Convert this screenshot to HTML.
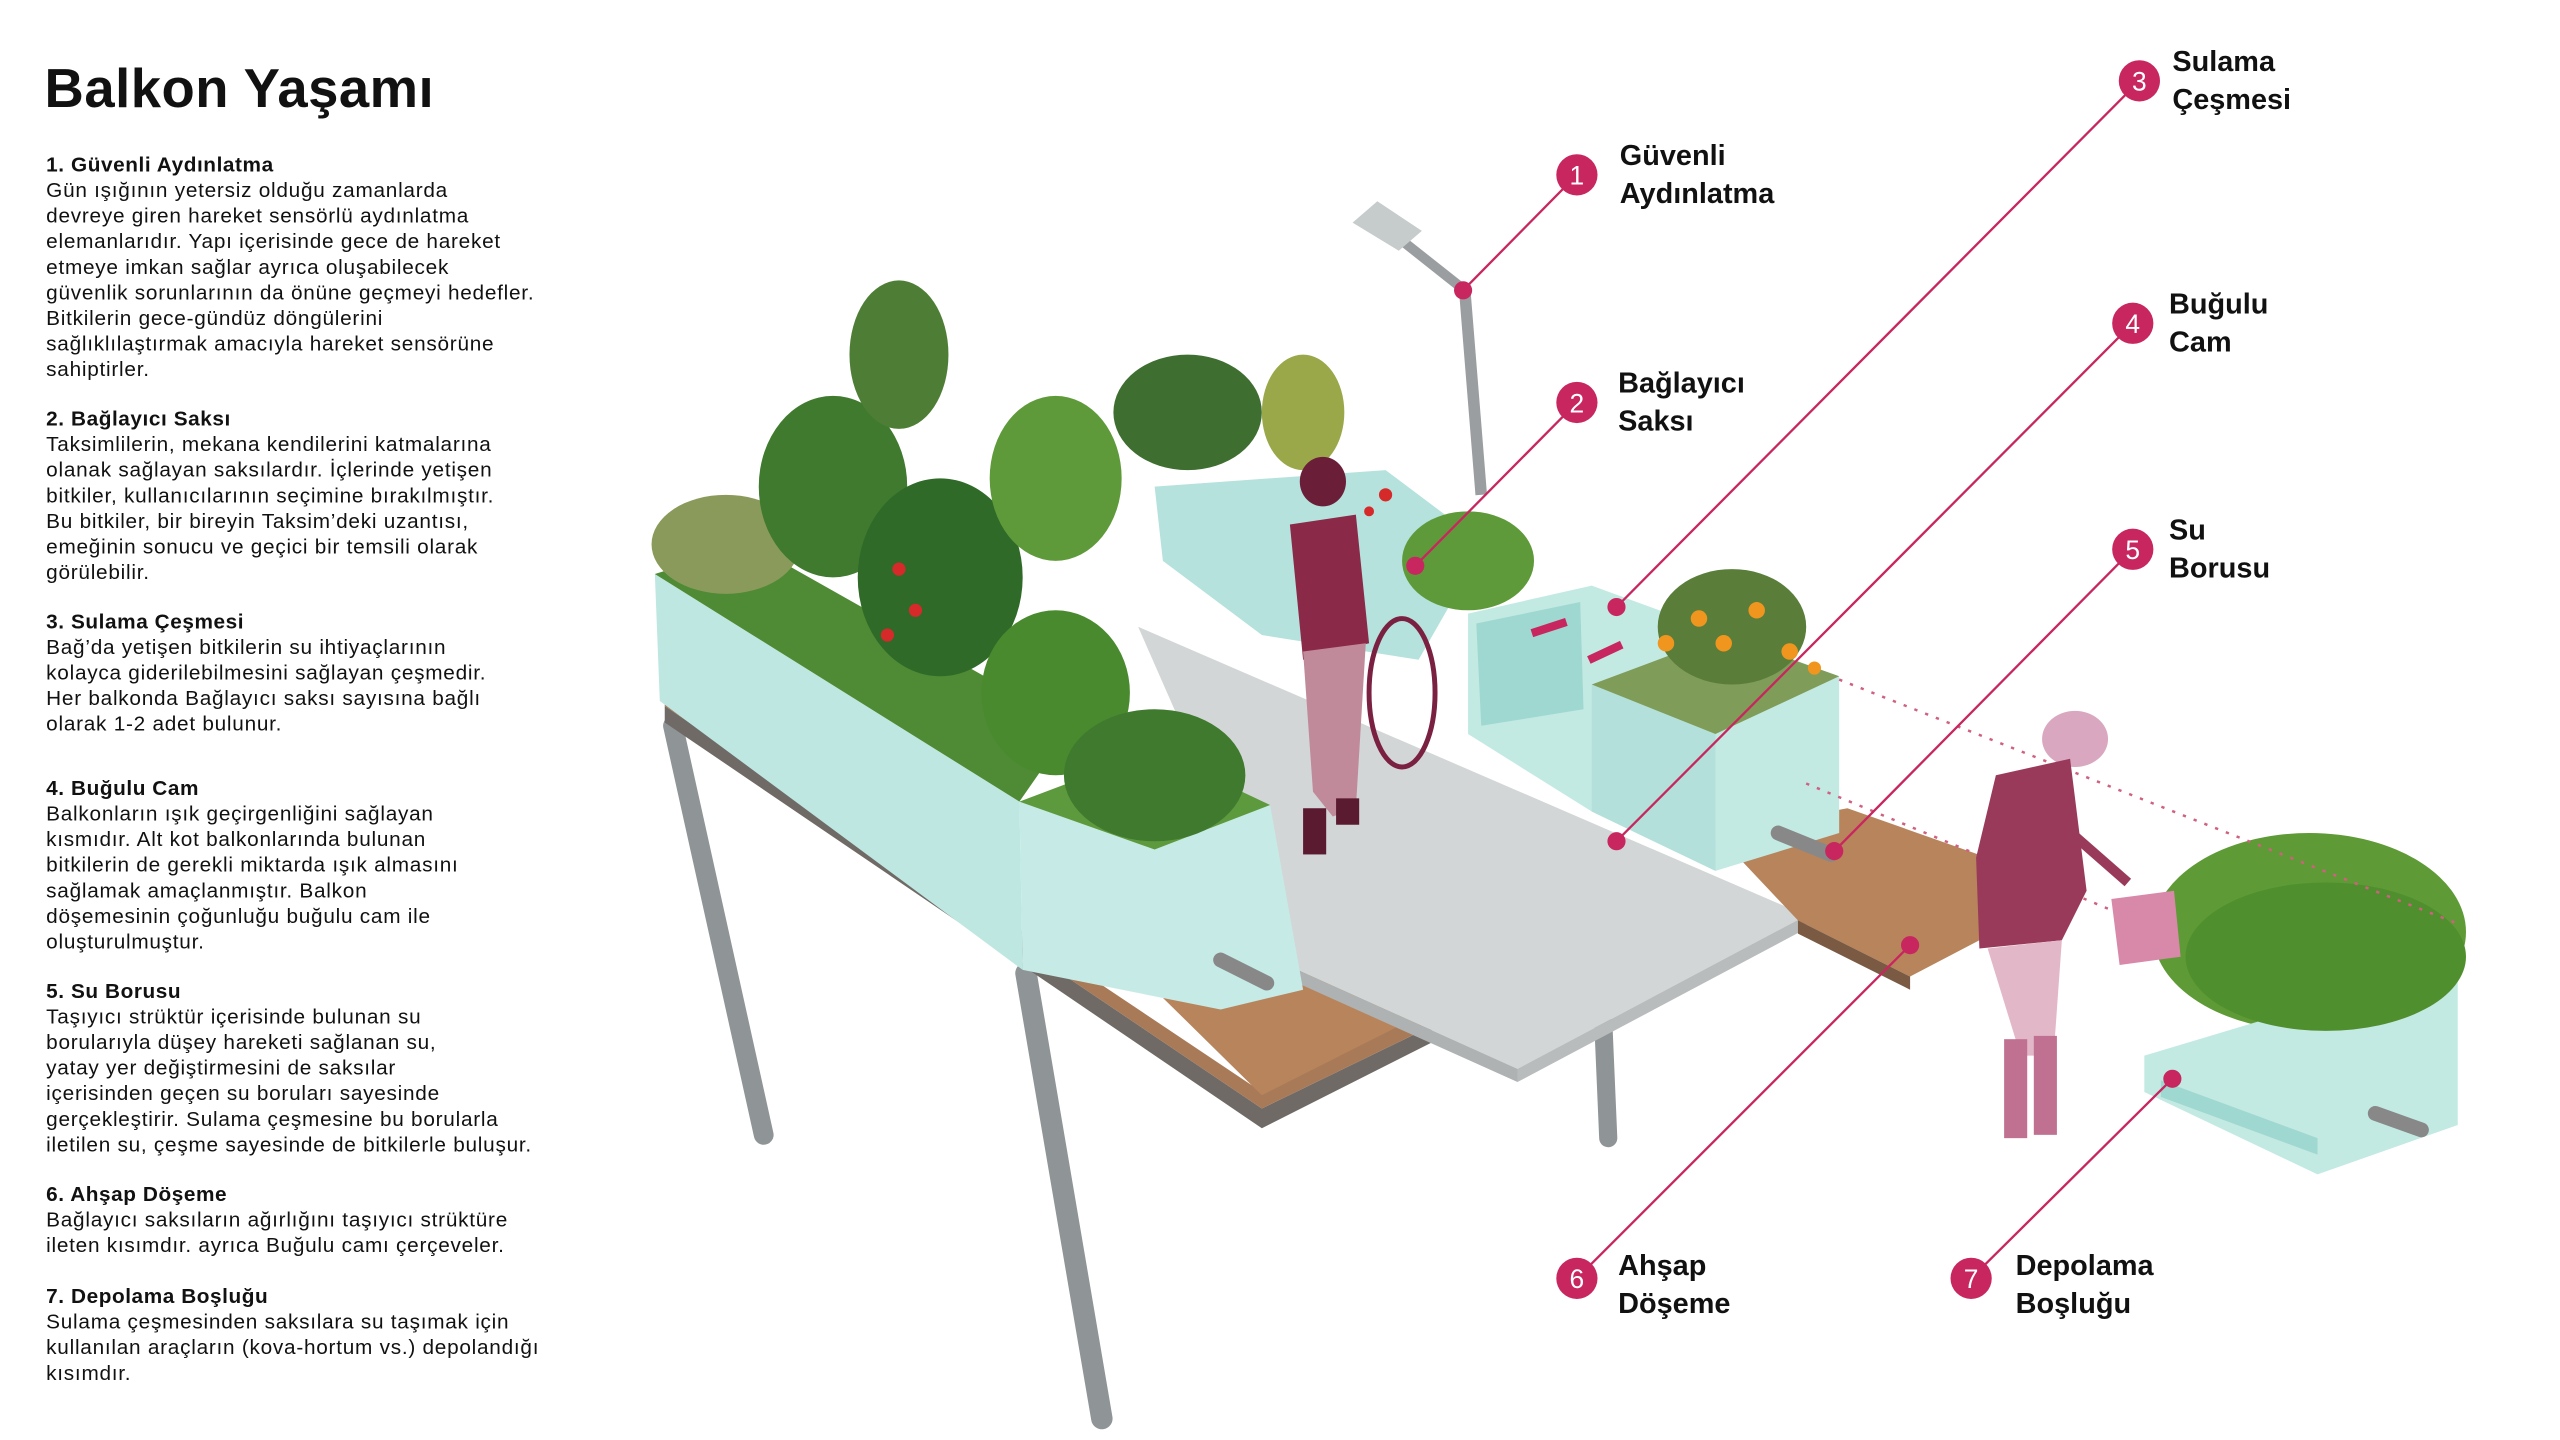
<!DOCTYPE html>
<html><head><meta charset="utf-8"><style>
html,body{margin:0;padding:0;background:#fff;}
svg{display:block}
.t{font-family:"Liberation Sans",sans-serif;fill:#111}
.h{font-weight:bold;font-size:12.6px;letter-spacing:0.35px}
.b{font-size:12.6px;letter-spacing:0.45px}
.lb{font-weight:bold;font-size:17.5px;font-family:"Liberation Sans",sans-serif;fill:#111}
.n{font-size:16px;fill:#fff;font-family:"Liberation Sans",sans-serif;text-anchor:middle}
</style></head><body>
<svg width="2560" height="1440" viewBox="0 0 1552 873" xmlns="http://www.w3.org/2000/svg">
<rect width="1552" height="873" fill="#fff"/>
<text class="t" x="27" y="65" font-size="33" font-weight="bold" letter-spacing="0.3">Balkon Yaşamı</text>
<g class="t b">
<text class="h" x="28" y="104">1.  Güvenli Aydınlatma</text>
<text x="28" y="119.5">Gün ışığının yetersiz olduğu zamanlarda</text>
<text x="28" y="135">devreye giren hareket sensörlü aydınlatma</text>
<text x="28" y="150.5">elemanlarıdır. Yapı içerisinde gece de hareket</text>
<text x="28" y="166">etmeye imkan sağlar ayrıca oluşabilecek</text>
<text x="28" y="181.5">güvenlik sorunlarının da önüne geçmeyi hedefler.</text>
<text x="28" y="197">Bitkilerin gece-gündüz döngülerini</text>
<text x="28" y="212.5">sağlıklılaştırmak amacıyla hareket sensörüne</text>
<text x="28" y="228">sahiptirler.</text>
<text class="h" x="28" y="258">2. Bağlayıcı Saksı</text>
<text x="28" y="273.5">Taksimlilerin, mekana kendilerini katmalarına</text>
<text x="28" y="289">olanak sağlayan saksılardır. İçlerinde yetişen</text>
<text x="28" y="304.5">bitkiler, kullanıcılarının seçimine bırakılmıştır.</text>
<text x="28" y="320">Bu bitkiler, bir bireyin Taksim’deki uzantısı,</text>
<text x="28" y="335.5">emeğinin sonucu ve geçici bir temsili olarak</text>
<text x="28" y="351">görülebilir.</text>
<text class="h" x="28" y="381">3. Sulama Çeşmesi</text>
<text x="28" y="396.5">Bağ’da yetişen bitkilerin su ihtiyaçlarının</text>
<text x="28" y="412">kolayca giderilebilmesini sağlayan çeşmedir.</text>
<text x="28" y="427.5">Her balkonda Bağlayıcı saksı sayısına bağlı</text>
<text x="28" y="443">olarak 1-2 adet bulunur.</text>
<text class="h" x="28" y="482">4. Buğulu Cam</text>
<text x="28" y="497.5">Balkonların ışık geçirgenliğini sağlayan</text>
<text x="28" y="513">kısmıdır. Alt kot balkonlarında bulunan</text>
<text x="28" y="528.5">bitkilerin de gerekli miktarda ışık almasını</text>
<text x="28" y="544">sağlamak amaçlanmıştır. Balkon</text>
<text x="28" y="559.5">döşemesinin çoğunluğu buğulu cam ile</text>
<text x="28" y="575">oluşturulmuştur.</text>
<text class="h" x="28" y="605">5. Su Borusu</text>
<text x="28" y="620.5">Taşıyıcı strüktür içerisinde bulunan su</text>
<text x="28" y="636">borularıyla düşey hareketi sağlanan su,</text>
<text x="28" y="651.5">yatay yer değiştirmesini de saksılar</text>
<text x="28" y="667">içerisinden geçen su boruları sayesinde</text>
<text x="28" y="682.5">gerçekleştirir. Sulama çeşmesine bu borularla</text>
<text x="28" y="698">iletilen su, çeşme sayesinde de bitkilerle buluşur.</text>
<text class="h" x="28" y="728">6. Ahşap Döşeme</text>
<text x="28" y="743.5">Bağlayıcı saksıların ağırlığını taşıyıcı strüktüre</text>
<text x="28" y="759">ileten kısımdır. ayrıca Buğulu camı çerçeveler.</text>
<text class="h" x="28" y="790">7. Depolama Boşluğu</text>
<text x="28" y="805.5">Sulama çeşmesinden saksılara su taşımak için</text>
<text x="28" y="821">kullanılan araçların (kova-hortum vs.) depolandığı</text>
<text x="28" y="836.5">kısımdır.</text>
</g>

<g>
<line x1="408" y1="440" x2="463" y2="688" stroke="#8f9496" stroke-width="12" stroke-linecap="round"/>
<line x1="622" y1="590" x2="668" y2="860" stroke="#8f9496" stroke-width="13" stroke-linecap="round"/>
<line x1="972" y1="620" x2="975" y2="690" stroke="#8f9496" stroke-width="11" stroke-linecap="round"/>
<polygon points="403,428 765,672 868,622 868,632 765,684 403,438" fill="#6f6a66"/>
<polygon points="403,420 765,662 868,612 868,622 765,672 403,428" fill="#a87a58"/>
<polygon points="700,600 790,570 868,612 765,664" fill="#b8845c"/>
<polygon points="690,380 1095,555 920,648 780,585" fill="#d3d6d6"/>
<polygon points="780,585 920,648 920,656 780,593" fill="#aeb2b2"/>
<polygon points="920,648 1095,555 1095,563 920,656" fill="#b8bcbc"/>
<polygon points="1040,505 1120,490 1205,520 1200,570 1158,592 1090,558" fill="#b8845c"/>
<polygon points="1090,558 1158,592 1158,600 1090,566" fill="#7a5a42"/>
<polygon points="700,295 840,285 900,330 860,400 765,385 705,340" fill="#b5e2dc"/>
<polygon points="397,348 618,486 620,588 400,425" fill="#bfe7e1"/>
<polygon points="397,348 455,330 650,440 618,486" fill="#4f8a35"/>
<polygon points="618,486 770,488 790,600 740,612 620,588" fill="#c6ebe6"/>
<polygon points="618,486 700,455 770,488 700,515" fill="#5d9a3d"/>
<polygon points="890,372 965,355 1115,410 1115,505 1040,528 965,492 890,445" fill="#c3e9e3"/>
<polygon points="895,378 958,365 960,430 898,440" fill="#9fd8d0"/>
<polygon points="965,415 1040,445 1040,528 965,492" fill="#b3e0da"/>
<polygon points="965,415 1045,385 1115,410 1040,445" fill="#7f9c58"/>
<rect x="928" y="378" width="22" height="5" fill="#c8265f" transform="rotate(-18 939 380)"/>
<rect x="962" y="393" width="22" height="5" fill="#c8265f" transform="rotate(-25 973 395)"/>
<line x1="740" y1="582" x2="768" y2="596" stroke="#888" stroke-width="9" stroke-linecap="round"/>
<line x1="1078" y1="505" x2="1110" y2="518" stroke="#888" stroke-width="9" stroke-linecap="round"/>
<g fill="#3f7a2e">
<ellipse cx="440" cy="330" rx="45" ry="30" fill="#8a9a5a"/>
<ellipse cx="505" cy="295" rx="45" ry="55"/>
<ellipse cx="545" cy="215" rx="30" ry="45" fill="#4e7e35"/>
<ellipse cx="570" cy="350" rx="50" ry="60" fill="#2f6a28"/>
<ellipse cx="640" cy="290" rx="40" ry="50" fill="#5f9a3a"/>
<ellipse cx="720" cy="250" rx="45" ry="35" fill="#3e6e30"/>
<ellipse cx="790" cy="250" rx="25" ry="35" fill="#9aa84a"/>
<ellipse cx="640" cy="420" rx="45" ry="50" fill="#4a8a2e"/>
<ellipse cx="700" cy="470" rx="55" ry="40" fill="#3f7a2e"/>
<ellipse cx="890" cy="340" rx="40" ry="30" fill="#5f9a3a"/>
<ellipse cx="1050" cy="380" rx="45" ry="35" fill="#5a7e3a"/>
<ellipse cx="1400" cy="565" rx="95" ry="60" fill="#5e9a35"/>
</g>
<g fill="#d62a2a">
<circle cx="545" cy="345" r="4"/><circle cx="555" cy="370" r="4"/><circle cx="538" cy="385" r="4"/><circle cx="840" cy="300" r="4"/><circle cx="830" cy="310" r="3"/>
</g>
<g fill="#f0961e">
<circle cx="1030" cy="375" r="5"/><circle cx="1045" cy="390" r="5"/><circle cx="1065" cy="370" r="5"/><circle cx="1085" cy="395" r="5"/><circle cx="1010" cy="390" r="5"/><circle cx="1100" cy="405" r="4"/>
</g>
<polygon points="1300,640 1400,610 1490,590 1490,682 1405,712 1300,662" fill="#c3e9e3"/>
<polygon points="1310,655 1405,690 1405,700 1310,665" fill="#9fd8d0"/>
<ellipse cx="1410" cy="580" rx="85" ry="45" fill="#4f8f2e"/>
<line x1="1440" y1="675" x2="1468" y2="685" stroke="#888" stroke-width="9" stroke-linecap="round"/>
<line x1="1115" y1="412" x2="1490" y2="560" stroke="#d06080" stroke-width="1.5" stroke-dasharray="2,5"/>
<line x1="1095" y1="475" x2="1300" y2="560" stroke="#d06080" stroke-width="1.5" stroke-dasharray="2,5"/>
<line x1="888" y1="176" x2="898" y2="300" stroke="#9a9ea0" stroke-width="7"/>
<line x1="840" y1="138" x2="888" y2="176" stroke="#9a9ea0" stroke-width="6"/>
<polygon points="820,135 835,122 862,140 848,152" fill="#c6cbcc"/>
<g fill="#8a2a48">
<ellipse cx="802" cy="292" rx="14" ry="15" fill="#6a1e38"/>
<path d="M782,318 L822,312 L830,390 L790,400 Z"/>
<path d="M790,395 L828,390 L822,490 L808,495 L796,480 Z" fill="#c08a9a"/>
<ellipse cx="850" cy="420" rx="20" ry="45" fill="none" stroke="#7a2040" stroke-width="3"/>
<rect x="790" y="490" width="14" height="28" fill="#5a1a30"/>
<rect x="810" y="484" width="14" height="16" fill="#5a1a30"/>
</g>
<g fill="#9a3a5a">
<ellipse cx="1258" cy="448" rx="20" ry="17" fill="#d9a8c0"/>
<path d="M1210,470 L1255,460 L1265,540 L1250,570 L1200,575 L1198,520 Z"/>
<path d="M1205,575 L1250,570 L1245,640 L1225,640 Z" fill="#e2b8c8"/>
<rect x="1215" y="630" width="14" height="60" fill="#c07090"/>
<rect x="1233" y="628" width="14" height="60" fill="#c07090"/>
<path d="M1280,545 L1318,540 L1322,580 L1285,585 Z" fill="#d888a8"/>
<line x1="1250" y1="500" x2="1290" y2="535" stroke="#9a3a5a" stroke-width="6"/>
</g>
</g>

<g stroke="#c8265f" stroke-width="1.4" fill="#c8265f">
<line x1="887" y1="176" x2="956" y2="106"/><circle cx="887" cy="176" r="5.5" stroke="none"/>
<line x1="858" y1="343" x2="956" y2="244"/><circle cx="858" cy="343" r="5.5" stroke="none"/>
<line x1="980" y1="368" x2="1297" y2="49"/><circle cx="980" cy="368" r="5.5" stroke="none"/>
<line x1="980" y1="510" x2="1293" y2="196"/><circle cx="980" cy="510" r="5.5" stroke="none"/>
<line x1="1112" y1="516" x2="1293" y2="333"/><circle cx="1112" cy="516" r="5.5" stroke="none"/>
<line x1="1158" y1="573" x2="956" y2="775"/><circle cx="1158" cy="573" r="5.5" stroke="none"/>
<line x1="1317" y1="654" x2="1195" y2="775"/><circle cx="1317" cy="654" r="5.5" stroke="none"/>
<circle cx="956" cy="106" r="12.5" stroke="none"/>
<circle cx="956" cy="244" r="12.5" stroke="none"/>
<circle cx="1297" cy="49" r="12.5" stroke="none"/>
<circle cx="1293" cy="196" r="12.5" stroke="none"/>
<circle cx="1293" cy="333" r="12.5" stroke="none"/>
<circle cx="956" cy="775" r="12.5" stroke="none"/>
<circle cx="1195" cy="775" r="12.5" stroke="none"/>
</g>
<text class="n" x="956" y="112">1</text>
<text class="n" x="956" y="250">2</text>
<text class="n" x="1297" y="55">3</text>
<text class="n" x="1293" y="202">4</text>
<text class="n" x="1293" y="339">5</text>
<text class="n" x="956" y="781">6</text>
<text class="n" x="1195" y="781">7</text>

<text class="lb" x="982" y="100">Güvenli</text><text class="lb" x="982" y="123">Aydınlatma</text>
<text class="lb" x="981" y="238">Bağlayıcı</text><text class="lb" x="981" y="261">Saksı</text>
<text class="lb" x="1317" y="43">Sulama</text><text class="lb" x="1317" y="66">Çeşmesi</text>
<text class="lb" x="1315" y="190">Buğulu</text><text class="lb" x="1315" y="213">Cam</text>
<text class="lb" x="1315" y="327">Su</text><text class="lb" x="1315" y="350">Borusu</text>
<text class="lb" x="981" y="773">Ahşap</text><text class="lb" x="981" y="796">Döşeme</text>
<text class="lb" x="1222" y="773">Depolama</text><text class="lb" x="1222" y="796">Boşluğu</text>
</svg>
</body></html>
